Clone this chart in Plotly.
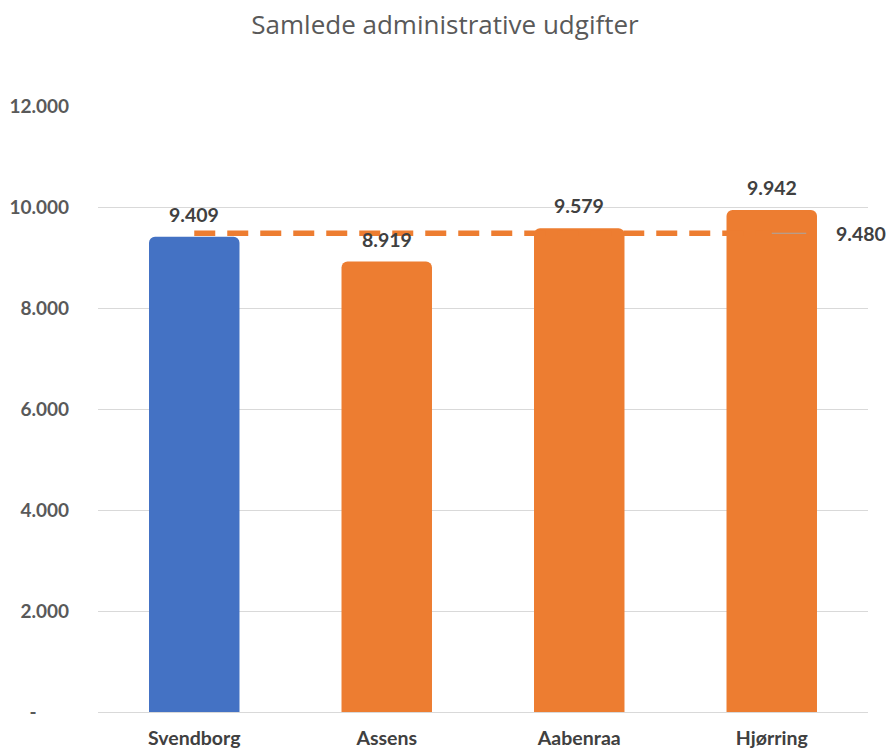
import plotly.graph_objects as go

categories = ["Svendborg", "Assens", "Aabenraa", "Hjørring"]
values = [9409, 8919, 9579, 9942]
value_labels = ["9.409", "8.919", "9.579", "9.942"]
bar_colors = ["#4472C4", "#ED7D31", "#ED7D31", "#ED7D31"]
average = 9480
average_label = "9.480"
tick_vals = [0, 2000, 4000, 6000, 8000, 10000, 12000]
tick_text = ["-" + "\u00a0" * 7, "2.000", "4.000", "6.000", "8.000", "10.000", "12.000"]
title = "Samlede administrative udgifter"

FONT = "Lato"

fig = go.Figure()
fig.add_trace(go.Bar(
    x=categories, y=values,
    marker=dict(color=bar_colors, line=dict(width=0), cornerradius=6),
    width=0.47, hoverinfo="skip",
))
fig.add_trace(go.Scatter(
    x=[categories[0], categories[-1]], y=[average, average],
    mode="lines",
    line=dict(color="#ED7D31", width=5.5, dash="21px,12px"),
    hoverinfo="skip",
))

for c, v, t in zip(categories, values, value_labels):
    fig.add_annotation(x=c, y=v, text=t, showarrow=False, yanchor="bottom",
                       yshift=9, font=dict(family=FONT, size=19.5, color="#404040", weight="bold"))

fig.add_annotation(x=categories[-1], y=average, text=average_label, showarrow=True,
                   ax=89, ay=0, arrowhead=0, arrowwidth=1, arrowcolor="#A6A6A6",
                   standoff=0, startstandoff=28,
                   font=dict(family=FONT, size=19.5, color="#404040", weight="bold"))

fig.update_layout(
    width=890, height=749, autosize=False,
    margin=dict(l=98, r=22, t=106, b=37),
    paper_bgcolor="white", plot_bgcolor="white",
    showlegend=False,
    title=dict(text=title, x=0.5, xanchor="center", y=0.967, yanchor="middle",
               font=dict(family="Open Sans", size=26, color="#595959")),
    xaxis=dict(range=[-0.5, len(categories) - 0.5], autorange=False,
               showgrid=False, showline=False, ticks="", ticklabelstandoff=12,
               automargin=False,
               tickfont=dict(family=FONT, size=19.5, color="#404040", weight="bold"),
               fixedrange=True),
    yaxis=dict(range=[0, 12000], autorange=False, tickvals=tick_vals, ticktext=tick_text,
               showgrid=True, gridcolor="#D9D9D9", gridwidth=1, zeroline=True,
               zerolinecolor="#D9D9D9", zerolinewidth=1, showline=False, ticks="",
               ticklabelstandoff=28, automargin=False,
               tickfont=dict(family=FONT, size=19, color="#595959", weight="bold"),
               fixedrange=True),
)

post = (
    "document.documentElement.style.margin='0';"
    "document.documentElement.style.overflow='hidden';"
    "document.body.style.margin='0';"
    "document.body.style.overflow='hidden';"
    "Plotly.relayout('{plot_id}', {width: 890, height: 749});"
)
fig.write_html("out.html", post_script=post,
               config={"responsive": False, "displayModeBar": False})
